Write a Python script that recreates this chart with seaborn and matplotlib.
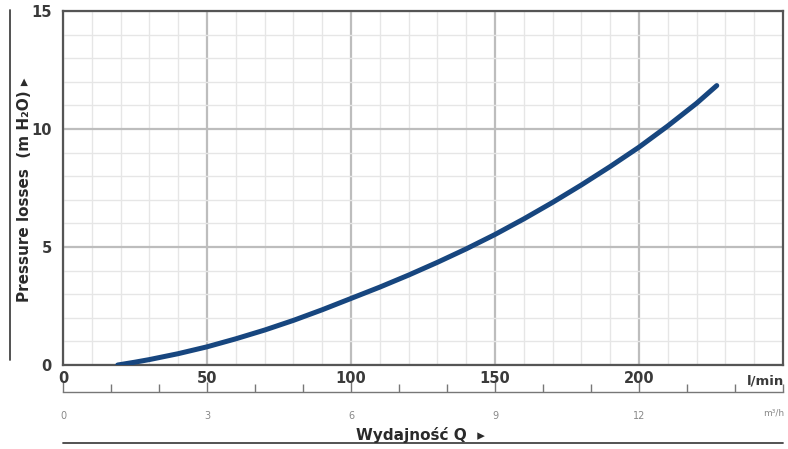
import numpy as np
import pandas as pd
import matplotlib.pyplot as plt
import seaborn as sns
from matplotlib.ticker import MultipleLocator

sns.set_theme(style="white")
plt.rcParams['font.family'] = ['DejaVu Sans']

# curve: flow (l/min) vs pressure loss (m H2O)
flow_lmin = [19, 25, 30, 40, 50, 60, 70, 80, 90, 100, 110, 120, 130, 140, 150,
             160, 170, 180, 190, 200, 210, 220, 227]
loss_m = [0.0, 0.12, 0.23, 0.48, 0.77, 1.11, 1.48, 1.89, 2.34, 2.82, 3.30, 3.81, 4.35, 4.92, 5.53,
          6.19, 6.89, 7.63, 8.41, 9.23, 10.13, 11.09, 11.84]

x_ticks = [0, 50, 100, 150, 200]
y_ticks = [0, 5, 10, 15]
m3h_ticks = [0, 3, 6, 9, 12]

df = pd.DataFrame({"Q": flow_lmin, "H": loss_m})

fig = plt.figure(figsize=(7.88, 4.49), dpi=100)
W, H = 788, 449
ax = fig.add_axes([63 / W, (H - 365) / H, 720 / W, 354 / H])

# grid: minor every 10 l/min / 1 m, major every 50 l/min / 5 m
ax.set_xlim(0, 250)
ax.set_ylim(0, 15)
ax.xaxis.set_major_locator(MultipleLocator(50))
ax.xaxis.set_minor_locator(MultipleLocator(10))
ax.yaxis.set_major_locator(MultipleLocator(5))
ax.yaxis.set_minor_locator(MultipleLocator(1))
ax.grid(True, which="minor", color="#e6e6e6", linewidth=1.0, zorder=0)
ax.grid(True, which="major", color="#bdbdbd", linewidth=1.6, zorder=0)

sns.lineplot(data=df, x="Q", y="H", ax=ax, color="#17467f", linewidth=3.6,
             solid_capstyle="round", zorder=3)

ax.set_xticks(x_ticks)
ax.set_yticks(y_ticks)
ax.set_xticklabels([str(v) for v in x_ticks], fontsize=10.5, fontweight="bold", color="#3a3a3a")
ax.set_yticklabels([str(v) for v in y_ticks], fontsize=10.5, fontweight="bold", color="#3a3a3a")
ax.tick_params(axis="both", which="both", length=0, pad=4)
ax.tick_params(axis="y", pad=8)
ax.set_xlabel("")
ax.set_ylabel("")
for s in ax.spines.values():
    s.set_color("#555555")
    s.set_linewidth(1.6)

# second scale in m3/h under the plot
sec = ax.secondary_xaxis(-0.076, functions=(lambda q: q / 50 * 3, lambda m: m * 50 / 3))
sec.set_xticks(m3h_ticks)
sec.set_xticklabels([str(v) for v in m3h_ticks], fontsize=7, color="#888888")
sec.xaxis.set_minor_locator(MultipleLocator(1))
sec.tick_params(axis="x", which="major", direction="in", length=7, width=1.0, color="#777777", pad=14)
sec.tick_params(axis="x", which="minor", direction="in", length=6, width=1.0, color="#777777")
sec.spines["bottom"].set_color("#777777")
sec.spines["bottom"].set_linewidth(1.0)

# units and titles
fig.text(784 / W, 1 - 381 / H, "l/min", fontsize=9.5, fontweight="bold", color="#3a3a3a",
         ha="right", va="center")
fig.text(784 / W, 1 - 413 / H, "m³/h", fontsize=6.5, color="#888888", ha="right", va="center")
fig.text(420 / W, 1 - 435 / H, "Wydajność Q  ▸", fontsize=11, fontweight="bold", color="#2a2a2a",
         ha="center", va="center")
fig.text(25 / W, 1 - 190 / H, "Pressure losses  (m H₂O) ▸", fontsize=11, fontweight="bold",
         color="#2a2a2a", rotation=90, ha="center", va="center")

# decorative rules
fig.add_artist(plt.Line2D([63 / W, 783 / W], [1 - 443 / H, 1 - 443 / H], color="#444444", linewidth=1.3))
fig.add_artist(plt.Line2D([10 / W, 10 / W], [1 - 10 / H, 1 - 360 / H], color="#444444", linewidth=1.3))

fig.savefig("out.png", dpi=100, facecolor="white")
